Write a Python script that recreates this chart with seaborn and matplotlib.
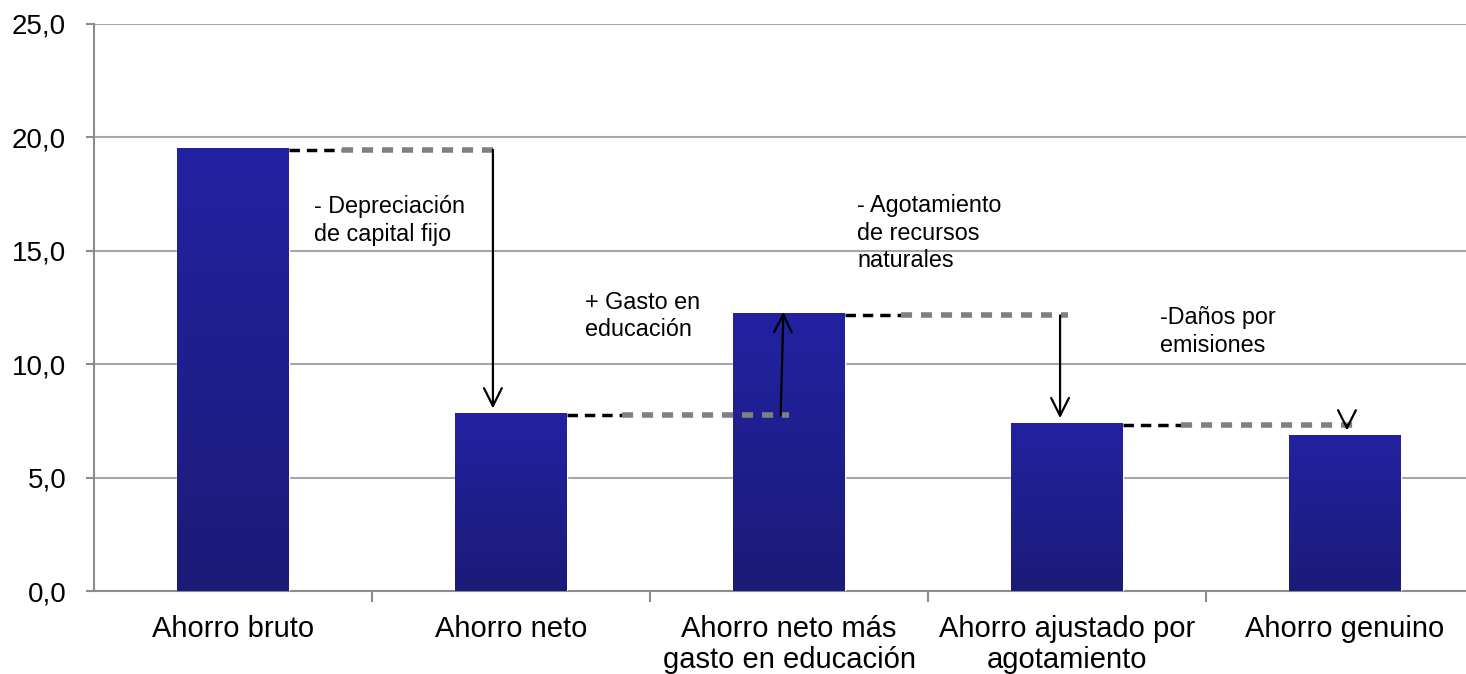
import numpy as np
import pandas as pd
import seaborn as sns
import matplotlib.pyplot as plt
from matplotlib.colors import LinearSegmentedColormap

# data
categorias = ['Ahorro bruto', 'Ahorro neto', 'Ahorro neto más\ngasto en educación',
              'Ahorro ajustado por\nagotamiento', 'Ahorro genuino']
valores = [19.55, 7.85, 12.25, 7.42, 6.88]
etiquetas = ['- Depreciación\nde capital fijo', '+ Gasto en\neducación',
             '- Agotamiento\nde recursos\nnaturales', '-Daños por\nemisiones']

df = pd.DataFrame({'cat': categorias, 'val': valores})

sns.set_theme(style='white')
plt.rcParams['font.family'] = ['Liberation Sans', 'DejaVu Sans']

fig = plt.figure(figsize=(14.66, 6.74), dpi=100)
ax = fig.add_axes([0.0641, 0.1231, 0.9482, 0.8413])

sns.barplot(data=df, x='cat', y='val', color='#2020a0', width=0.4,
            saturation=1, ax=ax, zorder=3)

# vertical gradient inside bars
cmap = LinearSegmentedColormap.from_list('azul', ['#1b1b78', '#2222a2'])
grad = np.linspace(0, 1, 256).reshape(-1, 1)
for p in ax.patches:
    x0, y0 = p.get_x(), p.get_y()
    w, h = p.get_width(), p.get_height()
    im = ax.imshow(grad, cmap=cmap, aspect='auto', origin='lower',
                   extent=[x0, x0 + w, y0, y0 + h], zorder=3.5)
    im.set_clip_path(p)

ax.set_xlim(-0.5, 4.5)
ax.set_ylim(0, 25)
ax.set_yticks(np.arange(0, 26, 5))
ax.set_yticklabels([f'{v:.1f}'.replace('.', ',') for v in np.arange(0, 26, 5)])
ax.grid(axis='y', color='#a6a6a6', linewidth=1.5, zorder=0)
ax.set_xlabel('')
ax.set_ylabel('')
for s in ['top', 'right']:
    ax.spines[s].set_visible(False)
for s in ['left', 'bottom']:
    ax.spines[s].set_color('#8c8c8c')
    ax.spines[s].set_linewidth(1.5)

ax.set_xticks(range(5))
ax.set_xticklabels(categorias, linespacing=1.15)
ax.tick_params(axis='x', length=0, labelsize=21, pad=17, colors='black')
ax.set_xticks(np.arange(0.5, 4.5, 1), minor=True)
ax.tick_params(axis='x', which='minor', length=8, width=1.5, color='#8c8c8c',
               direction='out', bottom=True)
ax.tick_params(axis='y', length=6, width=1.5, color='#8c8c8c', labelsize=20,
               pad=14, left=True, colors='black')

# connectors and arrows between bars
arrow_x = [0.935, 1.97, 2.975, 4.007]
for i in range(4):
    x_start = i + 0.2
    x_end = arrow_x[i] + 0.03
    y = valores[i] - 0.1
    mid = x_start + (x_end - x_start) * 0.25
    ax.plot([x_start, mid], [y, y], color='black', lw=2.5,
            linestyle=(0, (3, 2)), zorder=5, solid_capstyle='butt')
    ax.plot([mid, x_end], [y, y], color='#808080', lw=4,
            linestyle=(0, (2, 1.6)), zorder=5)
    y_tip = valores[i + 1] + (0.2 if valores[i + 1] < valores[i] else 0.05)
    ax.annotate('', xy=(arrow_x[i] + (0.01 if i == 1 else 0), y_tip),
                xytext=(arrow_x[i], y),
                arrowprops=dict(arrowstyle='->', color='black', lw=1.6,
                                mutation_scale=32, shrinkA=0, shrinkB=0),
                zorder=6)

text_pos = [(0.291, 17.45), (1.266, 13.25), (2.245, 17.5), (3.335, 12.55)]
for (tx, ty), t in zip(text_pos, etiquetas):
    ax.text(tx, ty, t, fontsize=16.8, va='top', ha='left', linespacing=1.25,
            color='black', zorder=7)

fig.savefig('out.png', dpi=100)
